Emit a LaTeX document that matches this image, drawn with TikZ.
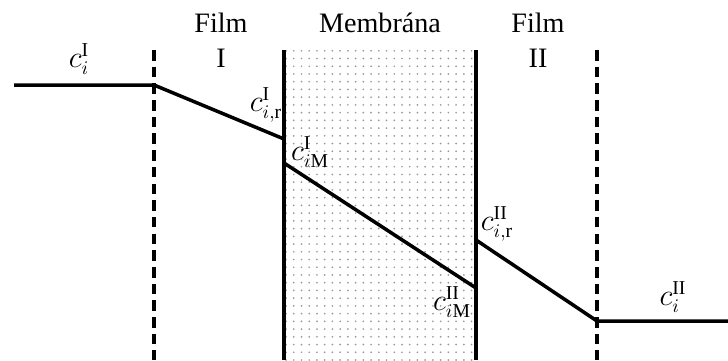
\documentclass[tikz,border=0pt]{standalone}
\usepackage{fontspec}
\setmainfont{Liberation Serif}
\usetikzlibrary{patterns.meta}
\tikzset{profile/.style = {line width = 2pt, line join = round}}
\tikzset{wall/.style = {line width = 2pt}}
\tikzset{film/.style = {line width = 2pt, dash pattern = on 6pt off 3.5pt}}
\tikzset{label/.style = {inner sep = 0pt, font = \fontsize{16}{19}\selectfont}}

\begin{document}
\begin{tikzpicture}[x = 0.02cm, y = -0.02cm]
			\useasboundingbox (0, 0) rectangle (728, 360);
			\fill[pattern = {Dots[distance = 4.4pt, radius = 0.55pt]}, pattern color = black!40] (284, 50) rectangle (476, 360);

			\coordinate (f1t) at (154, 50);
			\coordinate (f1b) at (154, 360);
			\coordinate (m1t) at (284, 50);
			\coordinate (m1b) at (284, 360);
			\coordinate (m2t) at (476, 50);
			\coordinate (m2b) at (476, 360);
			\coordinate (f2t) at (597, 50);
			\coordinate (f2b) at (597, 360);

			\coordinate (a) at (14, 85);
			\coordinate (b) at (154, 85);
			\coordinate (c) at (284, 139);
			\coordinate (d) at (284, 163);
			\coordinate (e) at (476, 288);
			\coordinate (f) at (476, 240);
			\coordinate (g) at (597, 321);
			\coordinate (h) at (728, 321);

			\draw[film] (f1t) to (f1b);
			\draw[film] (f2t) to (f2b);
			\draw[wall] (m1t) to (m1b);
			\draw[wall] (m2t) to (m2b);

			\draw[profile] (a) -- (b) -- (c);
			\draw[profile] (d) -- (e);
			\draw[profile] (f) -- (g) -- (h);

			\node[label, anchor = base] (film1) at (221, 32) {Film};
			\node[label, anchor = base] (film1n) at (221, 67) {I};
			\node[label, anchor = base] (memb) at (380, 32) {Membrána};
			\node[label, anchor = base] (film2) at (538, 32) {Film};
			\node[label, anchor = base] (film2n) at (538, 67) {II};

			\node[label] (ci1) at (79, 59) {$c_i^{\mathrm{I}}$};
			\node[label] (cir1) at (266, 105) {$c_{i,\mathrm{r}}^{\mathrm{I}}$};
			\node[label] (ciM1) at (310, 152) {$c_{i\mathrm{M}}^{\mathrm{I}}$};
			\node[label] (ciM2) at (452, 302) {$c_{i\mathrm{M}}^{\mathrm{II}}$};
			\node[label] (cir2) at (497, 224) {$c_{i,\mathrm{r}}^{\mathrm{II}}$};
			\node[label] (ci2) at (673, 297) {$c_i^{\mathrm{II}}$};
		\end{tikzpicture}
\end{document}
